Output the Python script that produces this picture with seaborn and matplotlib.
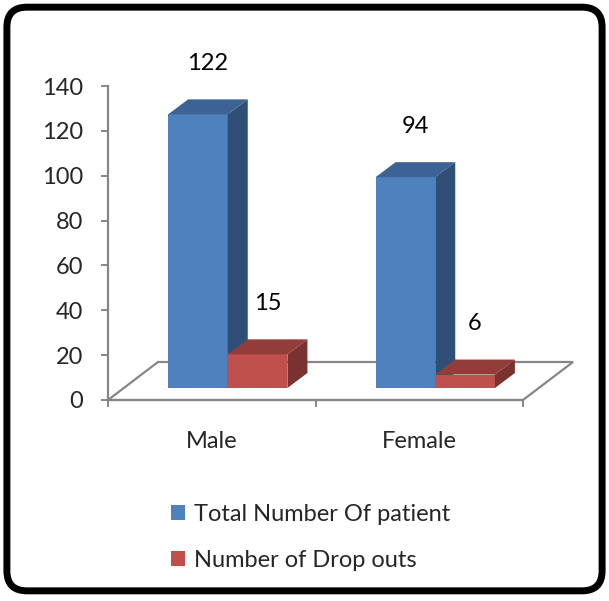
import matplotlib
matplotlib.use("Agg")
import matplotlib.pyplot as plt
import seaborn as sns
import pandas as pd
from matplotlib.patches import Polygon, Patch, FancyBboxPatch

# Data
categories = ["Male", "Female"]
series_names = ["Total Number Of patient", "Number of Drop outs"]
total_patients = [122, 94]
drop_outs = [15, 6]
y_ticks = [0, 20, 40, 60, 80, 100, 120, 140]

front_colors = ["#4F81BD", "#C0504D"]
top_colors = ["#3C6393", "#933D3B"]
side_colors = ["#314F76", "#7A3230"]
axis_gray = "#868686"

df = pd.DataFrame({
    "Gender": categories * 2,
    "Series": [series_names[0]] * 2 + [series_names[1]] * 2,
    "Count": total_patients + drop_outs,
})

sns.set_theme(style="white")
plt.rcParams["font.family"] = ["Lato", "DejaVu Sans"]
FS = 17

W, H = 609, 601
fig = plt.figure(figsize=(W / 100, H / 100), dpi=100)
ax = fig.add_axes([108 / W, (H - 400) / H, 415 / W, 314 / H])
ax.set_xlim(-0.5, 1.5)
ax.set_ylim(0, 140)

sns.barplot(data=df, x="Gender", y="Count", hue="Series", order=categories,
            hue_order=series_names, palette=front_colors, width=0.575,
            dodge=True, saturation=1, legend=False, ax=ax)
ax.set_xlim(-0.5, 1.5)
ax.set_ylim(0, 140)

# pixel -> data conversions
p0 = ax.transData.transform((0, 0))
px_x = ax.transData.transform((1, 0))[0] - p0[0]
px_y = ax.transData.transform((0, 1))[1] - p0[1]

# floor parallelogram and where the bars stand on it
floor_dx, floor_dy = 50 / px_x, 38 / px_y
shift_x, shift_y = 16 / px_x, 12 / px_y
depth_x, depth_y = 20 / px_x, 15 / px_y

floor = Polygon([(-0.5, 0), (1.5, 0), (1.5 + floor_dx, floor_dy), (-0.5 + floor_dx, floor_dy)],
                closed=True, facecolor="white", edgecolor=axis_gray, lw=1.6,
                clip_on=False, zorder=1)
ax.add_patch(floor)

for k, container in enumerate(ax.containers):
    z = 3 + k
    for bar in container:
        x0 = bar.get_x() + shift_x
        w = bar.get_width()
        h = bar.get_height()
        x1 = x0 + w
        bar.set_x(x0)
        bar.set_y(shift_y)
        bar.set_zorder(z)
        bar.set_edgecolor("none")
        bar.set_clip_on(False)
        top = h + shift_y
        ax.add_patch(Polygon([(x0, top), (x1, top), (x1 + depth_x, top + depth_y),
                              (x0 + depth_x, top + depth_y)], closed=True,
                             facecolor=top_colors[k], edgecolor="none",
                             zorder=z, clip_on=False))
        ax.add_patch(Polygon([(x1, shift_y), (x1 + depth_x, shift_y + depth_y),
                              (x1 + depth_x, top + depth_y), (x1, top)], closed=True,
                             facecolor=side_colors[k], edgecolor="none",
                             zorder=z, clip_on=False))
        ax.annotate(f"{h:g}", xy=(x0 + w / 2 + depth_x / 2, top + depth_y),
                    xytext=(0, 26), textcoords="offset points",
                    ha="center", va="center", fontsize=FS, color="black",
                    annotation_clip=False)

# axes styling
for side in ["top", "right"]:
    ax.spines[side].set_visible(False)
for side in ["left", "bottom"]:
    ax.spines[side].set_color(axis_gray)
    ax.spines[side].set_linewidth(1.6)
    ax.spines[side].set_zorder(2)

ax.set_yticks(y_ticks)
ax.set_yticklabels([str(t) for t in y_ticks], fontsize=FS)
ax.tick_params(axis="y", length=5, width=1.4, color=axis_gray, pad=13,
               left=True, direction="out")
ax.set_xticks([0, 1])
ax.set_xticklabels(categories, fontsize=FS)
ax.set_xticks([-0.5, 0.5, 1.5], minor=True)
ax.tick_params(axis="x", which="major", length=0, pad=22)
ax.tick_params(axis="x", which="minor", length=5, width=1.4, color=axis_gray,
               bottom=True, direction="out")
ax.set_xlabel("")
ax.set_ylabel("")
ax.grid(False)
ax.patch.set_alpha(0)

handles = [Patch(facecolor=c, edgecolor="none") for c in front_colors]
fig.legend(handles, series_names, loc="upper left",
           bbox_to_anchor=(171 / W, (H - 504) / H), frameon=False,
           fontsize=FS, handlelength=0.6, handleheight=0.6,
           handletextpad=0.38, labelspacing=1.07, borderpad=0,
           borderaxespad=0)

# rounded frame around the chart
frame = FancyBboxPatch((27 / W, 30 / H), (582 - 27) / W, (574 - 30) / H,
                       boxstyle="round,pad=0.033", transform=fig.transFigure,
                       facecolor="none", edgecolor="black", lw=5, zorder=10)
fig.patches.append(frame)

fig.savefig("out.png", dpi=100, facecolor="white")
